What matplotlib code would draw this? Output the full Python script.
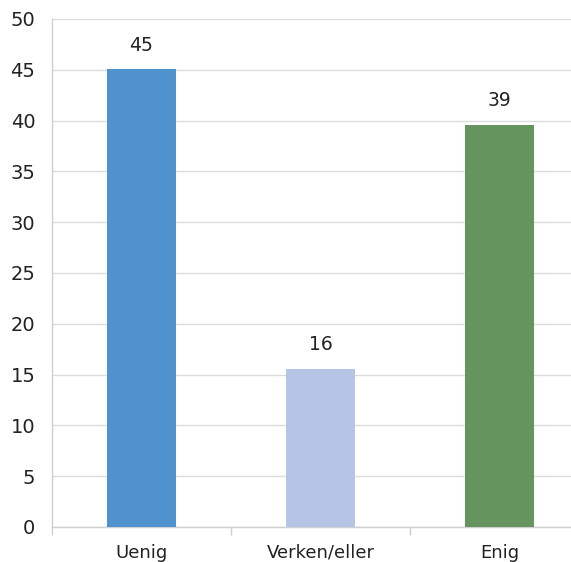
import matplotlib
matplotlib.use('Agg')
import matplotlib.pyplot as plt
import numpy as np

# svarfordeling (prosent)
categories = ['Uenig', 'Verken/eller', 'Enig']
values = [45.1, 15.6, 39.6]
value_labels = ['45', '16', '39']
bar_colors = ['#4f92cd', '#b4c5e6', '#66945e']
yticks = [0, 5, 10, 15, 20, 25, 30, 35, 40, 45, 50]

W, H = 571, 562
fig = plt.figure(figsize=(W / 100, H / 100), dpi=100)
# axes runs past the right edge, like the cropped original
left, right, top, bottom = 52, 589, 19, 527
ax = fig.add_axes([left / W, 1 - bottom / H, (right - left) / W, (bottom - top) / H])

x = np.arange(len(categories))
bars = ax.bar(x, values, width=0.39, color=bar_colors, zorder=3)

for b, v, lab in zip(bars, values, value_labels):
    ax.text(b.get_x() + b.get_width() / 2, v + 1.4, lab,
            ha='center', va='bottom', fontsize=13.5, color='#222222')

ax.set_xlim(-0.5, len(categories) - 0.5)
ax.set_ylim(0, 50)
ax.set_yticks(yticks)
ax.set_yticklabels([str(t) for t in yticks], fontsize=14, color='#222222')
ax.tick_params(axis='y', length=0, pad=12)

ax.set_xticks(x)
ax.set_xticklabels(categories, fontsize=13, color='#222222')
ax.tick_params(axis='x', length=0, pad=12)
# small tick marks at the category boundaries
ax.set_xticks(np.arange(len(categories) + 1) - 0.5, minor=True)
ax.tick_params(axis='x', which='minor', length=6, color='#d0d0d0', width=1)

ax.grid(axis='y', color='#dcdcdc', linewidth=1, zorder=0)
for s in ['top', 'right']:
    ax.spines[s].set_visible(False)
for s in ['left', 'bottom']:
    ax.spines[s].set_color('#d0d0d0')
    ax.spines[s].set_linewidth(1)

fig.savefig('out.png', dpi=100)
